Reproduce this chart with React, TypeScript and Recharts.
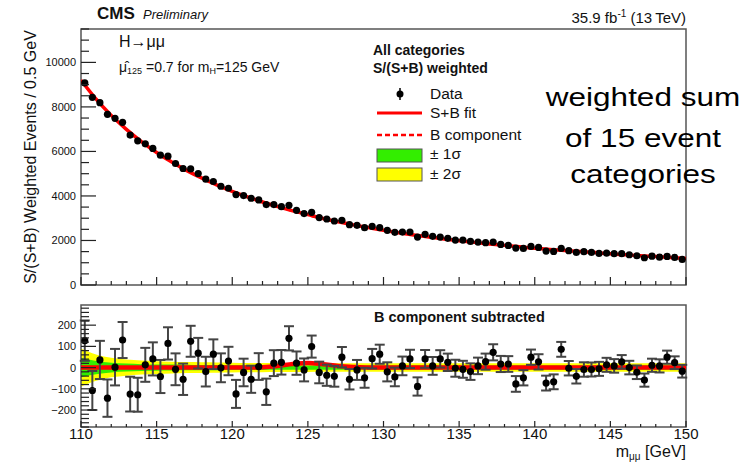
import React from "react";
import { ComposedChart, Line, Scatter, Area, XAxis, YAxis, ReferenceArea, ErrorBar } from "recharts";

const FONT = '"Liberation Sans", Arial, Helvetica, sans-serif';

// 0.5 GeV bins between 110 and 150 GeV
const binCenters = Array.from({ length: 80 }, (_, i) => 110.25 + i * 0.5);

// top panel: S/(S+B) weighted events per bin
const weightedEvents = [
  9077, 8432, 8190, 7667, 7486, 7306, 6734, 6477, 6342, 6135,
  5833, 5788, 5459, 5234, 5216, 5009, 4752, 4649, 4437, 4347,
  4063, 4018, 3896, 3820, 3613, 3613, 3520, 3581, 3356, 3207,
  3266, 3027, 2964, 2874, 2905, 2712, 2680, 2577, 2635, 2577,
  2455, 2365, 2378, 2378, 2153, 2275, 2185, 2153, 2095, 2018,
  2018, 1959, 1928, 1901, 1928, 1824, 1779, 1658, 1644, 1734,
  1689, 1523, 1509, 1644, 1540, 1464, 1495, 1464, 1419, 1432,
  1405, 1405, 1360, 1315, 1225, 1297, 1252, 1284, 1239, 1149,
];

// bottom panel: data minus B component, with errors
const bSubtracted = [
  127, -108, 36, -144, 2, 130, -125, -128, 13, 41,
  -42, 114, -8, -55, 124, 68, -19, 63, -1, 31,
  -124, -23, -55, 5, -114, 21, 25, 138, 21, -11,
  99, -23, -36, -41, 49, -55, -11, -48, 42, 63,
  -20, -44, 8, 41, -89, 41, 8, 41, 25, -3,
  -8, -19, 8, 28, 72, 17, 17, -77, -48, 49,
  27, -73, -67, 86, -3, -41, -9, -9, -6, 13,
  8, 27, 0, -22, -59, 11, 8, 49, 23, -17,
];
const bSubtractedErr = [
  95, 92, 90, 88, 86, 85, 82, 80, 80, 78,
  78, 76, 75, 74, 73, 72, 70, 70, 68, 67,
  66, 65, 64, 63, 62, 61, 58, 57, 55, 54,
  52, 51, 50, 49, 48, 48, 47, 47, 46, 45,
  45, 44, 44, 43, 43, 42, 42, 41, 41, 40,
  40, 39, 39, 38, 38, 38, 37, 37, 36, 36,
  36, 35, 35, 35, 34, 34, 34, 33, 33, 33,
  32, 32, 32, 32, 31, 31, 31, 31, 30, 30,
];

// fit curves sampled every 1 GeV
const fitMasses = Array.from({ length: 41 }, (_, i) => 110 + i);
const sbFit = [
  9200, 8350, 7620, 6990, 6440, 5950, 5520, 5140, 4800, 4490,
  4210, 3960, 3730, 3520, 3330, 3160, 2990, 2840, 2700, 2580,
  2460, 2350, 2250, 2160, 2070, 1990, 1915, 1845, 1780, 1720,
  1650, 1600, 1550, 1500, 1455, 1400, 1355, 1315, 1275, 1235, 1195,
];
const signalFit = [
  0, 0, 0, 0, 0, 0, 0, 0, 0, 0,
  0, 0, 2, 8, 17, 22, 16, 8, 3, 0,
  0, 0, 0, 0, 0, 0, 0, 0, 0, 0,
  0, 0, 0, 0, 0, 0, 0, 0, 0, 0, 0,
];
const sigma1 = [
  45, 31, 23, 19, 16, 15, 14, 13, 12, 12,
  11, 11, 11, 10, 10, 10, 10, 10, 10, 10,
  10, 10, 10, 10, 10, 10, 10, 10, 10, 10,
  10, 10, 10, 10, 10, 10, 10, 10, 10, 10, 11,
];
const sigma2 = [
  90, 62, 46, 38, 33, 30, 28, 26, 25, 24,
  23, 22, 22, 21, 21, 21, 20, 20, 20, 20,
  20, 20, 20, 20, 20, 20, 20, 20, 20, 20,
  20, 20, 20, 20, 20, 20, 20, 20, 20, 20, 21,
];

const xTicks = Array.from({ length: 41 }, (_, i) => 110 + i);
const topYTicks = Array.from({ length: 24 }, (_, i) => i * 500);
const botYTicks = Array.from({ length: 29 }, (_, i) => -280 + i * 20);

const eventRows = binCenters.map((x, i) => ({ x, y: weightedEvents[i] }));
const fitRows = fitMasses.map((x, i) => ({ x, sb: sbFit[i], b: sbFit[i] - signalFit[i] }));
const residRows = binCenters.map((x, i) => ({ x, y: bSubtracted[i], err: bSubtractedErr[i] }));
const bandRows = fitMasses.map((x, i) => ({
  x,
  s2: [-sigma2[i], sigma2[i]],
  s1: [-sigma1[i], sigma1[i]],
  sig: signalFit[i],
}));

const AXIS = "#222";

function XTick(props: any) {
  const { x, y, payload, majorLen, minorLen, showLabel } = props;
  const v = payload.value;
  const isMajor = v % 5 === 0;
  return (
    <g>
      <line x1={x} x2={x} y1={y} y2={y - (isMajor ? majorLen : minorLen)} stroke={AXIS} strokeWidth={1.2} />
      {showLabel && isMajor && (
        <text x={x} y={y + 12} textAnchor="middle" fontSize={15} fontFamily={FONT} fill="#111">
          {v}
        </text>
      )}
    </g>
  );
}

function YTick(props: any) {
  const { x, y, payload, step } = props;
  const v = payload.value;
  const isMajor = v % step === 0;
  return (
    <g>
      <line x1={x} x2={x + (isMajor ? 15 : 8)} y1={y} y2={y} stroke={AXIS} strokeWidth={1.2} />
      {isMajor && (
        <text x={x - 5} y={y} textAnchor="end" dominantBaseline="central" fontSize={11} fontFamily={FONT} fill="#111">
          {v < 0 ? "\u2212" + Math.abs(v) : v}
        </text>
      )}
    </g>
  );
}

const dataDot = (p: any) => <circle cx={p.cx} cy={p.cy} r={3.6} fill="#000" />;

export default function App() {
  return (
    <div style={{ position: "fixed", left: 0, top: 0, width: 751, height: 464, background: "#fff" }}>
      <div style={{ position: "absolute", left: 0, top: 0 }}>
        <ComposedChart width={751} height={300} margin={{ top: 29, right: 65, bottom: 0, left: 0 }}>
          <XAxis
            type="number"
            dataKey="x"
            domain={[110, 150]}
            ticks={xTicks}
            interval={0}
            allowDataOverflow
            height={15}
            tickSize={0}
            tickMargin={0}
            axisLine={false}
            tickLine={false}
            tick={(p: any) => <XTick {...p} majorLen={8} minorLen={4} showLabel={false} />}
          />
          <YAxis
            type="number"
            domain={[0, 11500]}
            ticks={topYTicks}
            interval={0}
            allowDataOverflow
            width={81}
            tickSize={0}
            tickMargin={0}
            axisLine={false}
            tickLine={false}
            tick={(p: any) => <YTick {...p} step={2000} />}
          />
          <ReferenceArea x1={110} x2={150} y1={0} y2={11500} fill="none" stroke="#555" strokeWidth={1.5} ifOverflow="visible" />
          <Line data={fitRows} dataKey="b" type="monotone" stroke="#f00" strokeWidth={2} strokeDasharray="5 3" dot={false} isAnimationActive={false} />
          <Line data={fitRows} dataKey="sb" type="monotone" stroke="#f00" strokeWidth={3.5} dot={false} isAnimationActive={false} />
          <Scatter data={eventRows} dataKey="y" shape={dataDot} isAnimationActive={false} />
        </ComposedChart>
      </div>

      <div style={{ position: "absolute", left: 0, top: 290 }}>
        <ComposedChart width={751} height={174} margin={{ top: 15, right: 65, bottom: 0, left: 0 }}>
          <XAxis
            type="number"
            dataKey="x"
            domain={[110, 150]}
            ticks={xTicks}
            interval={0}
            allowDataOverflow
            height={37}
            tickSize={0}
            tickMargin={0}
            axisLine={false}
            tickLine={false}
            tick={(p: any) => <XTick {...p} majorLen={6} minorLen={3} showLabel />}
          />
          <YAxis
            type="number"
            domain={[-280, 295]}
            ticks={botYTicks}
            interval={0}
            allowDataOverflow
            width={81}
            tickSize={0}
            tickMargin={0}
            axisLine={false}
            tickLine={false}
            tick={(p: any) => <YTick {...p} step={100} />}
          />
          <Area data={bandRows} dataKey="s2" type="monotone" stroke="none" fill="#ffff00" fillOpacity={1} isAnimationActive={false} />
          <Area data={bandRows} dataKey="s1" type="monotone" stroke="none" fill="#33ee00" fillOpacity={1} isAnimationActive={false} />
          <Line data={bandRows} dataKey="sig" type="monotone" stroke="#f00" strokeWidth={4.5} dot={false} isAnimationActive={false} />
          <ReferenceArea x1={110} x2={150} y1={-280} y2={295} fill="none" stroke="#555" strokeWidth={1.5} ifOverflow="visible" />
          <Scatter data={residRows} dataKey="y" shape={dataDot} isAnimationActive={false}>
            <ErrorBar dataKey="err" direction="y" width={5} stroke="#444" strokeWidth={2} />
          </Scatter>
        </ComposedChart>
      </div>

      <svg width={751} height={464} style={{ position: "absolute", left: 0, top: 0, pointerEvents: "none" }} fontFamily={FONT} fill="#111">
        <text x={97} y={19} fontSize={17} fontWeight="bold">CMS</text>
        <text x={143} y={19} fontSize={13} fontStyle="italic">Preliminary</text>
        <text x={686} y={23} fontSize={15} textAnchor="end">
          35.9 fb<tspan dy={-6} fontSize={10}>-1</tspan>
          <tspan dy={6}> (13{"\u2009"}TeV)</tspan>
        </text>

        <text transform="translate(36,157) rotate(-90)" textAnchor="middle" fontSize={16}>
          S/(S+B) Weighted Events / 0.5 GeV
        </text>

        <text x={119} y={47} fontSize={16}>H{"\u2192"}μμ</text>
        <text x={119} y={72} fontSize={14}>
          μ̂<tspan fontSize={9} dy={2}>125</tspan>
          <tspan dy={-2}> =0.7 for m</tspan>
          <tspan fontSize={9} dy={2}>H</tspan>
          <tspan dy={-2}>=125 GeV</tspan>
        </text>

        <text x={373} y={55} fontSize={14} fontWeight="bold">All categories</text>
        <text x={373} y={73} fontSize={14} fontWeight="bold">S/(S+B) weighted</text>
        <line x1={400} x2={400} y1={88} y2={100} stroke="#000" strokeWidth={1.5} />
        <circle cx={400} cy={94} r={3.5} fill="#000" />
        <text x={430} y={99} fontSize={15.5}>Data</text>
        <line x1={377} x2={422} y1={113} y2={113} stroke="#f00" strokeWidth={3} />
        <text x={430} y={118} fontSize={15.5}>S+B fit</text>
        <line x1={377} x2={422} y1={135} y2={135} stroke="#f00" strokeWidth={2.5} strokeDasharray="5 3" />
        <text x={430} y={140} fontSize={15.5}>B component</text>
        <rect x={377} y={149} width={45} height={13} fill="#33ee00" stroke="#555" />
        <text x={430} y={159} fontSize={15.5}>± 1σ</text>
        <rect x={377} y={168} width={45} height={13} fill="#ffff00" stroke="#555" />
        <text x={430} y={179} fontSize={15.5}>± 2σ</text>

        <text transform="translate(643,106) scale(1.26,1)" textAnchor="middle" fontSize={25} fill="#000">weighted sum</text>
        <text transform="translate(643,147) scale(1.26,1)" textAnchor="middle" fontSize={25} fill="#000">of 15 event</text>
        <text transform="translate(643,183) scale(1.26,1)" textAnchor="middle" fontSize={25} fill="#000">categories</text>

        <text x={374} y={322} fontSize={14.5} fontWeight="bold">B component subtracted</text>

        <text x={686} y={457} fontSize={16} textAnchor="end">
          m<tspan fontSize={10} dy={3}>μμ</tspan>
          <tspan dy={-3}> [GeV]</tspan>
        </text>
      </svg>
    </div>
  );
}
